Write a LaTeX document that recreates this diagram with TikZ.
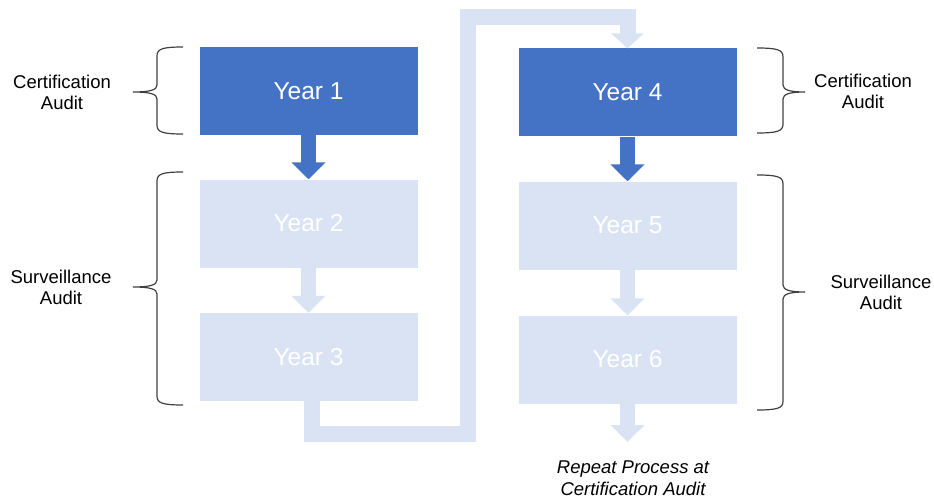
\documentclass[tikz,border=0pt]{standalone}
\usepackage{fontspec}
\setmainfont{Liberation Sans}
\usetikzlibrary{arrows.meta}
\definecolor{darkblue}{HTML}{4472C4}
\definecolor{paleblue}{HTML}{DAE3F3}
\definecolor{bracegray}{HTML}{404040}

\begin{document}
\begin{tikzpicture}[x=1pt,y=-1pt,
  yearbox/.style={minimum width=218pt,minimum height=88pt,inner sep=0pt,
    text=white,font=\fontsize{24.5}{28}\selectfont},
  darkbox/.style={yearbox,fill=darkblue},
  lightbox/.style={yearbox,fill=paleblue},
  darkarrow/.style={draw=darkblue,line width=15pt,-{Triangle[width=33pt,length=17pt]}},
  lightarrow/.style={draw=paleblue,line width=15pt,-{Triangle[width=33pt,length=17pt]}},
  lightline/.style={draw=paleblue,line width=16pt,line join=miter,-{Triangle[width=32pt,length=15pt]}},
  bracepen/.style={draw=bracegray,line width=1.2pt},
  sidelabel/.style={align=center,font=\fontsize{18.5}{21.5}\selectfont}]
\useasboundingbox (0,0) rectangle (934,500);

% Left column - first cycle
\node[darkbox] (y1) at (308.5,91) {Year 1};
\node[lightbox] (y2) at (308.5,223.5) {Year 2};
\node[lightbox] (y3) at (308.5,357) {Year 3};

% Right column - second cycle
\node[darkbox] (y4) at (627.5,92.5) {Year 4};
\node[lightbox] (y5) at (627.5,225.5) {Year 5};
\node[lightbox] (y6) at (627.5,359.5) {Year 6};

% Arrows
\draw[darkarrow] (y1.south) -- (y2.north);
\draw[lightarrow] (y2.south) -- (y3.north);
\draw[darkarrow] (y4.south) -- (y5.north);
\draw[lightarrow] (y5.south) -- (y6.north);
\coordinate (nextcycle) at (627.5,442);
\draw[lightarrow] (y6.south) -- (nextcycle);

% Link from Year 3 to Year 4
\draw[lightline] ([xshift=3.5pt]y3.south) -- ++(0,33) -| (468,17) -| (y4.north);

% Braces
\draw[bracepen] (183,47) .. controls (162,47) and (157,49) .. (157,56) -- (157,85)
  .. controls (157,90) and (150,92) .. (133,92) .. controls (150,92) and (157,94) .. (157,99)
  -- (157,125) .. controls (157,132) and (162,134) .. (183,134);
\draw[bracepen] (183,172) .. controls (162,172) and (157,174) .. (157,181) -- (157,280)
  .. controls (157,285) and (150,287) .. (133,287) .. controls (150,287) and (157,289) .. (157,294)
  -- (157,396) .. controls (157,403) and (162,405) .. (183,405);
\draw[bracepen] (757,48) .. controls (778,48) and (783,50) .. (783,57) -- (783,85)
  .. controls (783,90) and (790,92) .. (805,92) .. controls (790,92) and (783,94) .. (783,99)
  -- (783,124) .. controls (783,131) and (778,133) .. (757,133);
\draw[bracepen] (757,175) .. controls (778,175) and (783,177) .. (783,184) -- (783,285)
  .. controls (783,290) and (790,292) .. (805,292) .. controls (790,292) and (783,294) .. (783,299)
  -- (783,401) .. controls (783,408) and (778,410) .. (757,410);

% Labels
\node[sidelabel] (certleft) at (62,92.5) {Certification\\Audit};
\node[sidelabel] (survleft) at (61,287.5) {Surveillance\\Audit};
\node[sidelabel] (certright) at (863,91.5) {Certification\\Audit};
\node[sidelabel] (survright) at (881,292.5) {Surveillance\\Audit};
\node[sidelabel,font=\fontsize{18.5}{21.5}\selectfont\itshape] (repeat) at (633,478) {Repeat Process at\\Certification Audit};
\end{tikzpicture}
\end{document}
